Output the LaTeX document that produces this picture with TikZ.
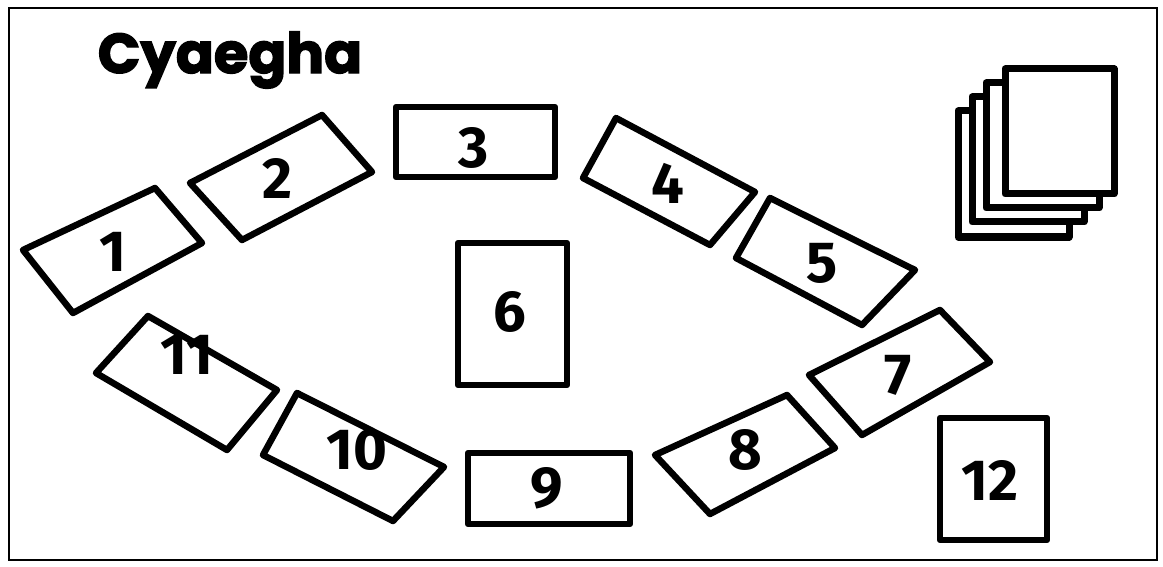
\documentclass[tikz,border=0pt]{standalone}
\usepackage{fontspec}
\setmainfont{Fira Sans}
\newfontfamily\titlefont[BoldFeatures={FakeBold=2.5}]{Poppins}
\tikzset{
  card/.style={draw=black, line width=6.5pt, line join=round, fill=white},
  sheet/.style={draw=black, line width=7pt, line join=round, fill=white},
  num/.style={font=\fontsize{58}{58}\selectfont\bfseries, inner sep=0pt},
  frame/.style={draw=black, line width=2.5pt}
}
\begin{document}
\begin{tikzpicture}[x=1pt, y=-1pt]
\useasboundingbox (0,0) rectangle (1163,567);
\draw[frame] (9,8) rectangle (1157,560);
\node[font=\titlefont\fontsize{56}{56}\selectfont\bfseries, inner sep=0pt] (title) at (230,60) {Cyaegha};
% card 1
\draw[card] (23,250) -- (155,188) -- (202,243) -- (73,313) -- cycle;
\node[num] (n1) at (113,252) {1};
% card 2
\draw[card] (190,183) -- (322,115) -- (372,172) -- (242,240) -- cycle;
\node[num] (n2) at (277,178) {2};
% card 3
\draw[card] (396,107) rectangle (555,177);
\node[num] (n3) at (474,148) {3};
% card 4
\draw[card] (616,118) -- (755,192) -- (710,245) -- (583,178) -- cycle;
\node[num] (n4) at (668,183) {4};
% card 5
\draw[card] (770,198) -- (915,270) -- (862,325) -- (736,258) -- cycle;
\node[num] (n5) at (822,263) {5};
% card 6
\draw[card] (458,243) rectangle (567,385);
\node[num] (n6) at (510,312) {6};
% card 7
\draw[card] (809,375) -- (940,310) -- (990,362) -- (862,435) -- cycle;
\node[num] (n7) at (898,375) {7};
% card 8
\draw[card] (655,455) -- (787,395) -- (835,448) -- (710,514) -- cycle;
\node[num] (n8) at (745,450) {8};
% card 9
\draw[card] (468,453) rectangle (630,524);
\node[num] (n9) at (547,488) {9};
% card 10
\draw[card] (297,393) -- (444,467) -- (393,521) -- (263,455) -- cycle;
\node[num] (n10) at (357,450) {10};
% card 11
\draw[card] (148,316) -- (277,390) -- (227,450) -- (96,373) -- cycle;
\node[num] (n11) at (187,355) {11};
% card 12
\draw[card] (940,418) rectangle (1047,540);
\node[num] (n12) at (990,480) {12};
% stack of sheets
\draw[sheet] (958,111) rectangle (1069,237);
\draw[sheet] (972,97) rectangle (1084,222);
\draw[sheet] (986,83) rectangle (1099,208);
\draw[sheet] (1005,69) rectangle (1114,194);
\end{tikzpicture}
\end{document}
